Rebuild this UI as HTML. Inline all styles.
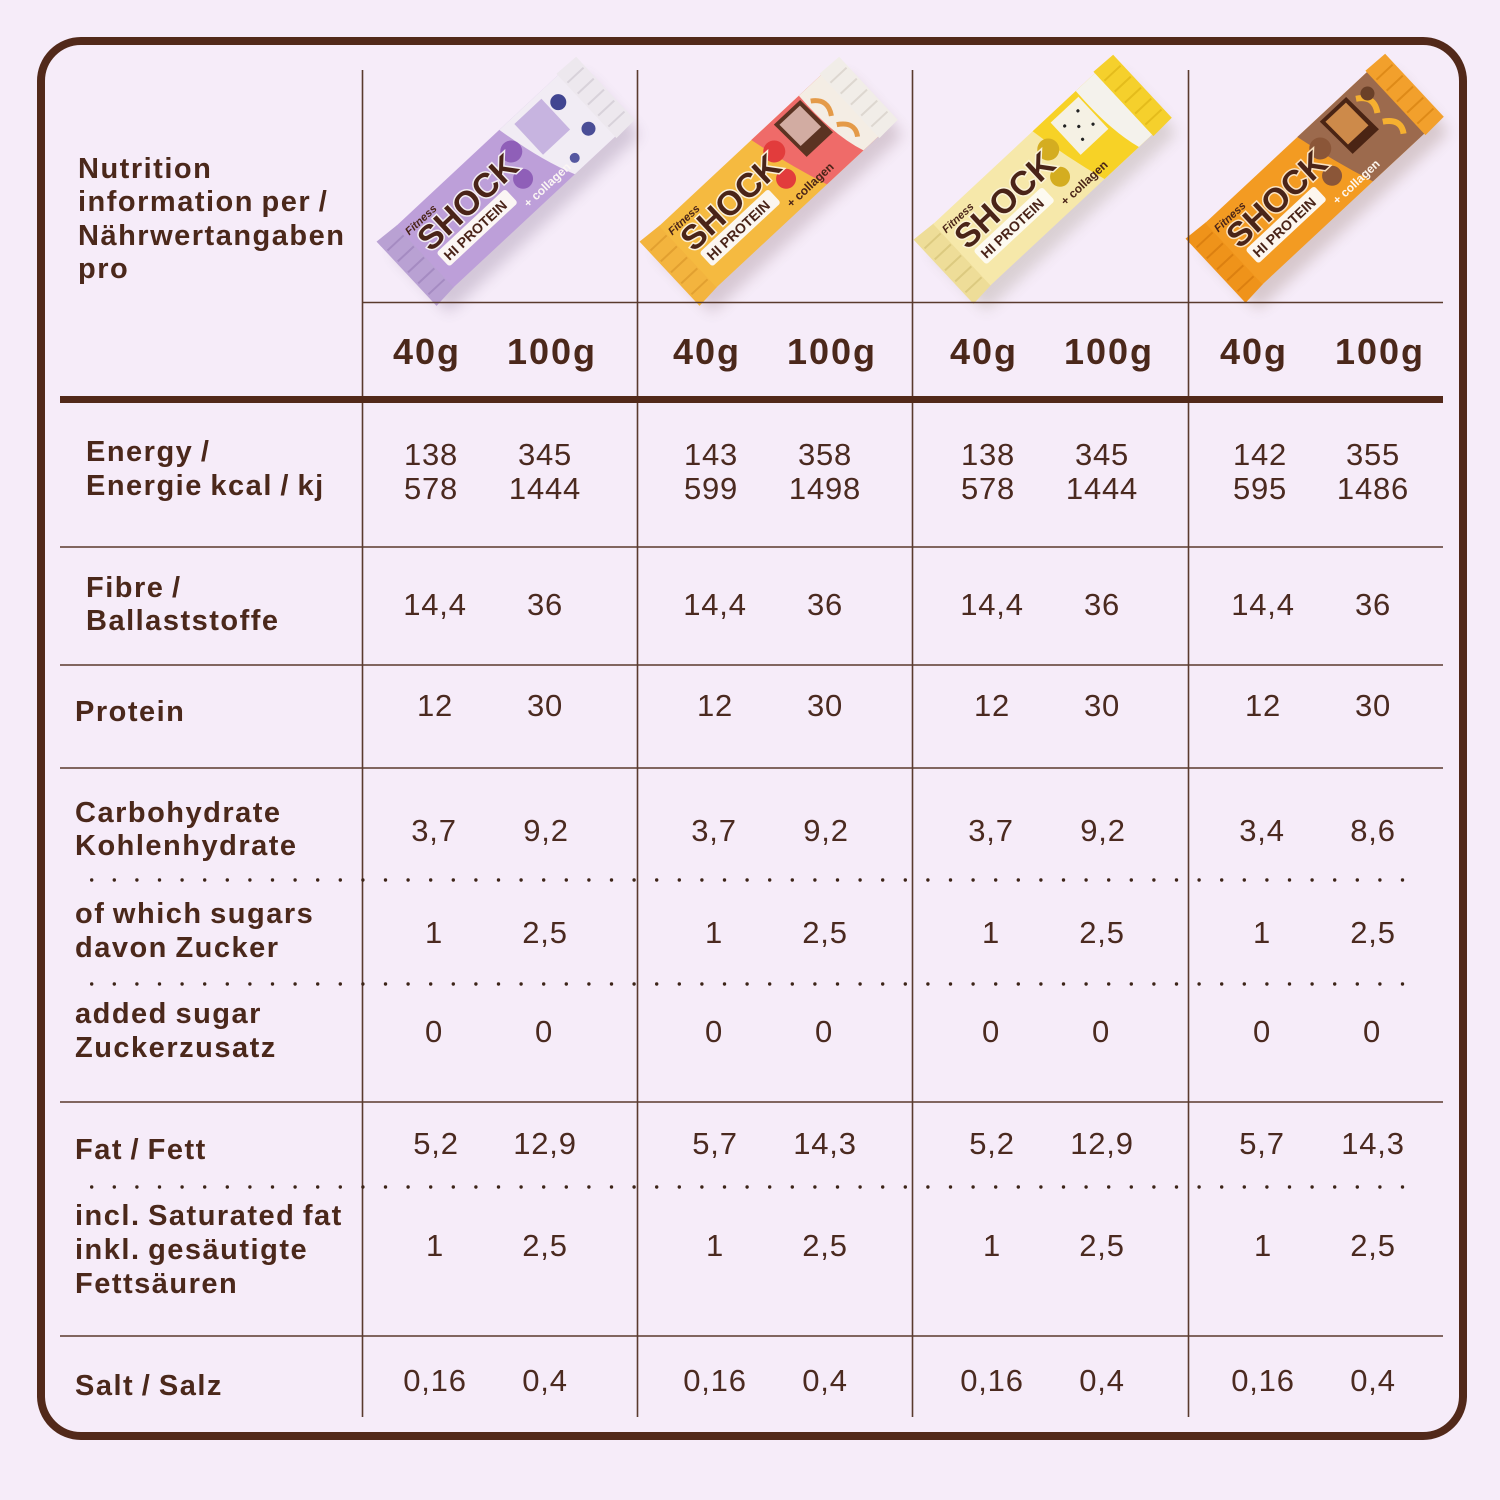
<!DOCTYPE html>
<html><head><meta charset="utf-8"><style>
html,body{margin:0;padding:0;background:#f6ecf9;}
svg{display:block;}
.lab{font-family:"Liberation Sans",sans-serif;font-weight:700;font-size:29px;letter-spacing:1.5px;word-spacing:-2px;fill:#4b281b;}
.hd{font-family:"Liberation Sans",sans-serif;font-weight:700;font-size:36px;letter-spacing:2px;fill:#4b281b;}
.v{font-family:"Liberation Sans",sans-serif;font-size:31px;letter-spacing:0.8px;fill:#4b2a20;text-anchor:middle;}
.bt{font-family:"Liberation Sans",sans-serif;font-weight:700;}
</style></head><body>
<svg width="1500" height="1500" viewBox="0 0 1500 1500" xmlns="http://www.w3.org/2000/svg">
<defs>
<filter id="sh" x="-30%" y="-30%" width="160%" height="160%"><feGaussianBlur stdDeviation="7"/></filter>
</defs>
<rect width="1500" height="1500" fill="#f6ecf9"/>

<!-- ===== Bars ===== -->
<!-- Purple -->
<g transform="translate(506,181) rotate(-43)">
<rect x="-128" y="-34" width="262" height="84" rx="6" fill="#5a4468" opacity="0.22" filter="url(#sh)" transform="translate(-4,8)"/>
<path d="M-136,-44 L-110,-42 L-110,42 L-136,44 Z" fill="#b9a1d3"/>
<path d="M-134,-30 L-112,-30 M-134,-15 L-112,-15 M-134,0 L-112,0 M-134,15 L-112,15 M-134,30 L-112,30" stroke="#a58bc2" stroke-width="2"/>
<rect x="-111" y="-42" width="224" height="84" fill="#bd9fd9"/>
<path d="M30,-42 L112,-42 L112,42 L55,42 Q40,10 30,-42 Z" fill="#f1ecf4"/>
<path d="M45,-36 L82,-36 L82,6 L45,6 Z" fill="#c7b4e0"/>
<circle cx="92" cy="-22" r="8" fill="#414591"/>
<circle cx="96" cy="18" r="7" fill="#4a4d96"/>
<circle cx="66" cy="30" r="5" fill="#5557a0"/>
<path d="M110,-44 L136,-43 L136,43 L110,44 Z" fill="#ede8ee"/>
<path d="M112,-30 L134,-30 M112,-15 L134,-15 M112,0 L134,0 M112,15 L134,15 M112,30 L134,30" stroke="#d8d2da" stroke-width="2"/>
<circle cx="24" cy="-18" r="11" fill="#8f5fb8"/>
<circle cx="14" cy="10" r="10" fill="#8f5fb8"/>
<text x="-108" y="-26" class="bt" font-size="11" font-style="italic" font-weight="400" fill="#4a2418">Fitness</text>
<text x="-104" y="1" class="bt" font-size="34" fill="#4a2418" stroke="#f3ecf2" stroke-width="3" paint-order="stroke">SHOCK</text>
<rect x="-100" y="5" width="94" height="19" rx="3" fill="#fbf6f4"/>
<text x="-96" y="20" class="bt" font-size="14" fill="#4a2418">HI PROTEIN</text>
<text x="-2" y="35" class="bt" font-size="12" font-weight="400" fill="#fbf6f4">+ collagen</text>
</g>

<!-- Apple pie -->
<g transform="translate(769,181) rotate(-43)">
<rect x="-128" y="-34" width="262" height="84" rx="6" fill="#6a4a50" opacity="0.22" filter="url(#sh)" transform="translate(-4,8)"/>
<path d="M-136,-44 L-110,-42 L-110,42 L-136,44 Z" fill="#f3b43e"/>
<path d="M-134,-30 L-112,-30 M-134,-15 L-112,-15 M-134,0 L-112,0 M-134,15 L-112,15 M-134,30 L-112,30" stroke="#e2a030" stroke-width="2"/>
<rect x="-111" y="-42" width="224" height="84" fill="#f5ba40"/>
<path d="M15,-42 L112,-42 L112,42 L40,42 Q25,0 15,-42 Z" fill="#ef6b69"/>
<path d="M42,-38 L78,-38 L80,8 L44,8 Z" fill="#5b3322"/>
<path d="M46,-34 L74,-34 L75,-4 L47,-4 Z" fill="#d2aca2"/>
<path d="M80,-42 L112,-42 L112,42 L90,42 Q78,10 80,-42 Z" fill="#f4ede4"/>
<path d="M85,-30 Q100,-20 90,-5 M88,5 Q104,15 95,28" stroke="#e49a48" stroke-width="5" fill="none"/>
<path d="M110,-44 L136,-43 L136,43 L110,44 Z" fill="#f1ede8"/>
<path d="M112,-30 L134,-30 M112,-15 L134,-15 M112,0 L134,0 M112,15 L134,15 M112,30 L134,30" stroke="#ddd7d0" stroke-width="2"/>
<circle cx="24" cy="-18" r="11" fill="#e23c3c"/>
<circle cx="14" cy="10" r="10" fill="#e23c3c"/>
<text x="-108" y="-26" class="bt" font-size="11" font-style="italic" font-weight="400" fill="#4a2418">Fitness</text>
<text x="-104" y="1" class="bt" font-size="34" fill="#4a2418" stroke="#fbefd8" stroke-width="3" paint-order="stroke">SHOCK</text>
<rect x="-100" y="5" width="94" height="19" rx="3" fill="#fbf6f0"/>
<text x="-96" y="20" class="bt" font-size="14" fill="#4a2418">HI PROTEIN</text>
<text x="-2" y="35" class="bt" font-size="12" font-weight="400" fill="#4a2418">+ collagen</text>
</g>

<!-- Lemon -->
<g transform="translate(1043,179) rotate(-43)">
<rect x="-128" y="-34" width="262" height="84" rx="6" fill="#6a6040" opacity="0.2" filter="url(#sh)" transform="translate(-4,8)"/>
<path d="M-136,-44 L-110,-42 L-110,42 L-136,44 Z" fill="#eedd98"/>
<path d="M-134,-30 L-112,-30 M-134,-15 L-112,-15 M-134,0 L-112,0 M-134,15 L-112,15 M-134,30 L-112,30" stroke="#dcca80" stroke-width="2"/>
<rect x="-111" y="-42" width="224" height="84" fill="#f6e8aa"/>
<path d="M25,-42 L112,-42 L112,42 L45,42 Q32,0 25,-42 Z" fill="#f7d226"/>
<path d="M44,-36 L82,-36 L82,8 L44,8 Z" fill="#f5f1e4"/>
<circle cx="52" cy="-24" r="1.6" fill="#222"/><circle cx="62" cy="-14" r="1.6" fill="#222"/><circle cx="72" cy="-26" r="1.6" fill="#222"/><circle cx="56" cy="-2" r="1.6" fill="#222"/><circle cx="74" cy="-6" r="1.6" fill="#222"/>
<path d="M84,-42 L112,-42 L112,42 L92,42 Q82,10 84,-42 Z" fill="#f4f2ec"/>
<path d="M110,-44 L136,-43 L136,43 L110,44 Z" fill="#f5d02c"/>
<path d="M112,-30 L134,-30 M112,-15 L134,-15 M112,0 L134,0 M112,15 L134,15 M112,30 L134,30" stroke="#e4bc1c" stroke-width="2"/>
<circle cx="24" cy="-18" r="11" fill="#d4ad20"/>
<circle cx="14" cy="10" r="10" fill="#d4ad20"/>
<text x="-108" y="-26" class="bt" font-size="11" font-style="italic" font-weight="400" fill="#4a2418">Fitness</text>
<text x="-104" y="1" class="bt" font-size="34" fill="#4a2418" stroke="#fbf3d6" stroke-width="3" paint-order="stroke">SHOCK</text>
<rect x="-100" y="5" width="94" height="19" rx="3" fill="#fdfaf0"/>
<text x="-96" y="20" class="bt" font-size="14" fill="#4a2418">HI PROTEIN</text>
<text x="-2" y="35" class="bt" font-size="12" font-weight="400" fill="#4a2418">+ collagen</text>
</g>

<!-- Coffee / orange -->
<g transform="translate(1315,178) rotate(-43)">
<rect x="-128" y="-34" width="262" height="84" rx="6" fill="#6a4a30" opacity="0.22" filter="url(#sh)" transform="translate(-4,8)"/>
<path d="M-136,-44 L-110,-42 L-110,42 L-136,44 Z" fill="#ef931a"/>
<path d="M-134,-30 L-112,-30 M-134,-15 L-112,-15 M-134,0 L-112,0 M-134,15 L-112,15 M-134,30 L-112,30" stroke="#dc8010" stroke-width="2"/>
<rect x="-111" y="-42" width="224" height="84" fill="#f39b22"/>
<path d="M15,-42 L112,-42 L112,42 L40,42 Q25,0 15,-42 Z" fill="#9c6a4d"/>
<path d="M42,-38 L78,-38 L80,8 L44,8 Z" fill="#4a2414"/>
<path d="M46,-34 L74,-34 L75,-2 L47,-2 Z" fill="#cd8a4a"/>
<path d="M84,-30 Q100,-20 90,-5 M88,5 Q104,15 95,28" stroke="#f5b030" stroke-width="6" fill="none"/>
<circle cx="96" cy="-26" r="7" fill="#6a4028"/>
<path d="M110,-44 L136,-43 L136,43 L110,44 Z" fill="#f2a02c"/>
<path d="M112,-30 L134,-30 M112,-15 L134,-15 M112,0 L134,0 M112,15 L134,15 M112,30 L134,30" stroke="#de8a18" stroke-width="2"/>
<circle cx="24" cy="-18" r="11" fill="#8b5638"/>
<circle cx="14" cy="10" r="10" fill="#8b5638"/>
<text x="-108" y="-26" class="bt" font-size="11" font-style="italic" font-weight="400" fill="#4a2418">Fitness</text>
<text x="-104" y="1" class="bt" font-size="34" fill="#4a2418" stroke="#fbe2c0" stroke-width="3" paint-order="stroke">SHOCK</text>
<rect x="-100" y="5" width="94" height="19" rx="3" fill="#fdf6ee"/>
<text x="-96" y="20" class="bt" font-size="14" fill="#4a2418">HI PROTEIN</text>
<text x="-2" y="35" class="bt" font-size="12" font-weight="400" fill="#fdf6ee">+ collagen</text>
</g>

<!-- ===== Frame & grid ===== -->
<rect x="41" y="41" width="1422" height="1395" rx="40" ry="40" fill="none" stroke="#52291a" stroke-width="8"/>
<g stroke="#5a3a2e" stroke-width="1.6">
<line x1="362.5" y1="70" x2="362.5" y2="1417"/>
<line x1="637.5" y1="70" x2="637.5" y2="1417"/>
<line x1="912.5" y1="70" x2="912.5" y2="1417"/>
<line x1="1188.5" y1="70" x2="1188.5" y2="1417"/>
<line x1="362" y1="302.5" x2="1443" y2="302.5"/>
<line x1="60" y1="547" x2="1443" y2="547"/>
<line x1="60" y1="665" x2="1443" y2="665"/>
<line x1="60" y1="768" x2="1443" y2="768"/>
<line x1="60" y1="1102" x2="1443" y2="1102"/>
<line x1="60" y1="1336" x2="1443" y2="1336"/>
</g>
<line x1="60" y1="399.5" x2="1443" y2="399.5" stroke="#52291a" stroke-width="7"/>
<g stroke="#3d2418" stroke-width="3.4" stroke-linecap="round" stroke-dasharray="0 22.6">
<line x1="91.7" y1="880" x2="1404" y2="880"/>
<line x1="91.7" y1="984" x2="1404" y2="984"/>
<line x1="91.7" y1="1187" x2="1404" y2="1187"/>
</g>

<!-- ===== Header text ===== -->
<text class="lab" x="78" y="178">Nutrition</text>
<text class="lab" x="78" y="211">information per /</text>
<text class="lab" x="78" y="245">Nährwertangaben</text>
<text class="lab" x="78" y="278">pro</text>

<text class="hd" x="427" y="364" text-anchor="middle">40g</text>
<text class="hd" x="552" y="364" text-anchor="middle">100g</text>
<text class="hd" x="707" y="364" text-anchor="middle">40g</text>
<text class="hd" x="832" y="364" text-anchor="middle">100g</text>
<text class="hd" x="984" y="364" text-anchor="middle">40g</text>
<text class="hd" x="1109" y="364" text-anchor="middle">100g</text>
<text class="hd" x="1254" y="364" text-anchor="middle">40g</text>
<text class="hd" x="1380" y="364" text-anchor="middle">100g</text>

<!-- ===== Row labels ===== -->
<text class="lab" x="86" y="461">Energy /</text>
<text class="lab" x="86" y="495">Energie kcal / kj</text>
<text class="lab" x="86" y="597">Fibre /</text>
<text class="lab" x="86" y="630">Ballaststoffe</text>
<text class="lab" x="75" y="721">Protein</text>
<text class="lab" x="75" y="822">Carbohydrate</text>
<text class="lab" x="75" y="855">Kohlenhydrate</text>
<text class="lab" x="75" y="923">of which sugars</text>
<text class="lab" x="75" y="957">davon Zucker</text>
<text class="lab" x="75" y="1023">added sugar</text>
<text class="lab" x="75" y="1057">Zuckerzusatz</text>
<text class="lab" x="75" y="1159">Fat / Fett</text>
<text class="lab" x="75" y="1225">incl. Saturated fat</text>
<text class="lab" x="75" y="1259">inkl. gesäutigte</text>
<text class="lab" x="75" y="1293">Fettsäuren</text>
<text class="lab" x="75" y="1395">Salt / Salz</text>

<!-- ===== Values ===== -->
<text class="v" x="431" y="465">138</text><text class="v" x="545" y="465">345</text>
<text class="v" x="431" y="499">578</text><text class="v" x="545" y="499">1444</text>
<text class="v" x="711" y="465">143</text><text class="v" x="825" y="465">358</text>
<text class="v" x="711" y="499">599</text><text class="v" x="825" y="499">1498</text>
<text class="v" x="988" y="465">138</text><text class="v" x="1102" y="465">345</text>
<text class="v" x="988" y="499">578</text><text class="v" x="1102" y="499">1444</text>
<text class="v" x="1260" y="465">142</text><text class="v" x="1373" y="465">355</text>
<text class="v" x="1260" y="499">595</text><text class="v" x="1373" y="499">1486</text>

<text class="v" x="435" y="615">14,4</text><text class="v" x="545" y="615">36</text>
<text class="v" x="715" y="615">14,4</text><text class="v" x="825" y="615">36</text>
<text class="v" x="992" y="615">14,4</text><text class="v" x="1102" y="615">36</text>
<text class="v" x="1263" y="615">14,4</text><text class="v" x="1373" y="615">36</text>

<text class="v" x="435" y="716">12</text><text class="v" x="545" y="716">30</text>
<text class="v" x="715" y="716">12</text><text class="v" x="825" y="716">30</text>
<text class="v" x="992" y="716">12</text><text class="v" x="1102" y="716">30</text>
<text class="v" x="1263" y="716">12</text><text class="v" x="1373" y="716">30</text>

<text class="v" x="434" y="841">3,7</text><text class="v" x="546" y="841">9,2</text>
<text class="v" x="714" y="841">3,7</text><text class="v" x="826" y="841">9,2</text>
<text class="v" x="991" y="841">3,7</text><text class="v" x="1103" y="841">9,2</text>
<text class="v" x="1262" y="841">3,4</text><text class="v" x="1373" y="841">8,6</text>

<text class="v" x="434" y="943">1</text><text class="v" x="545" y="943">2,5</text>
<text class="v" x="714" y="943">1</text><text class="v" x="825" y="943">2,5</text>
<text class="v" x="991" y="943">1</text><text class="v" x="1102" y="943">2,5</text>
<text class="v" x="1262" y="943">1</text><text class="v" x="1373" y="943">2,5</text>

<text class="v" x="434" y="1042">0</text><text class="v" x="544" y="1042">0</text>
<text class="v" x="714" y="1042">0</text><text class="v" x="824" y="1042">0</text>
<text class="v" x="991" y="1042">0</text><text class="v" x="1101" y="1042">0</text>
<text class="v" x="1262" y="1042">0</text><text class="v" x="1372" y="1042">0</text>

<text class="v" x="436" y="1154">5,2</text><text class="v" x="545" y="1154">12,9</text>
<text class="v" x="715" y="1154">5,7</text><text class="v" x="825" y="1154">14,3</text>
<text class="v" x="992" y="1154">5,2</text><text class="v" x="1102" y="1154">12,9</text>
<text class="v" x="1262" y="1154">5,7</text><text class="v" x="1373" y="1154">14,3</text>

<text class="v" x="435" y="1256">1</text><text class="v" x="545" y="1256">2,5</text>
<text class="v" x="715" y="1256">1</text><text class="v" x="825" y="1256">2,5</text>
<text class="v" x="992" y="1256">1</text><text class="v" x="1102" y="1256">2,5</text>
<text class="v" x="1263" y="1256">1</text><text class="v" x="1373" y="1256">2,5</text>

<text class="v" x="435" y="1391">0,16</text><text class="v" x="545" y="1391">0,4</text>
<text class="v" x="715" y="1391">0,16</text><text class="v" x="825" y="1391">0,4</text>
<text class="v" x="992" y="1391">0,16</text><text class="v" x="1102" y="1391">0,4</text>
<text class="v" x="1263" y="1391">0,16</text><text class="v" x="1373" y="1391">0,4</text>
</svg>
</body></html>
